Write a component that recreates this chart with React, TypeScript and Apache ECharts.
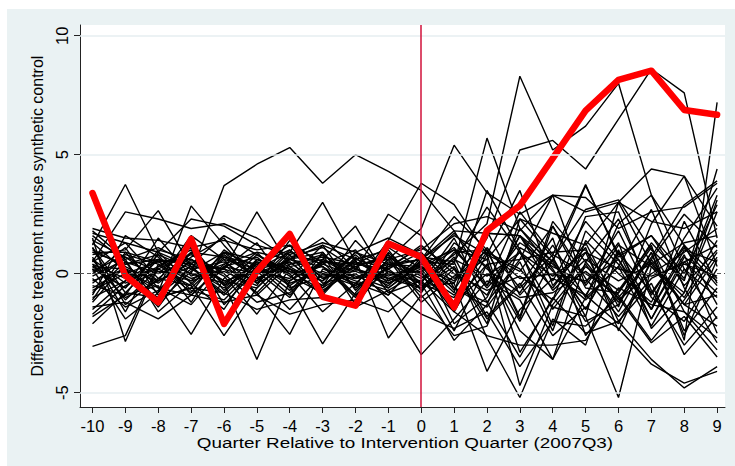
import React, { useEffect, useRef } from "react";
import * as echarts from "echarts";

const quarters = [-10, -9, -8, -7, -6, -5, -4, -3, -2, -1, 0, 1, 2, 3, 4, 5, 6, 7, 8, 9];
const yTicks = [-5, 0, 5, 10];

const treated = [3.39, -0.08, -1.2, 1.46, -2.11, 0.1, 1.67, -0.97, -1.34, 1.27, 0.7, -1.41, 1.81, 2.86, 4.85, 6.85, 8.14, 8.53, 6.88, 6.68];

const p01 = [0.9, 0.4, 0.6, 0.0, 3.7, 4.6, 5.3, 3.8, 5.0, 4.3, 3.5, 1.8, -0.5, 1.3, 0.4, -0.9, 1.2, 0.3, -1.3, 0.7];
const p02 = [0.3, -0.6, 0.8, 0.2, -0.6, 0.5, 0.1, -0.3, 0.9, 0.4, -0.2, 0.8, 2.1, 8.3, 5.2, 6.2, 8.0, 3.3, 0.2, -1.0];
const p03 = [-0.4, 0.7, -0.3, 0.5, 0.2, -0.8, 0.6, 0.3, -0.5, 0.2, 0.9, -0.7, 1.5, 5.2, 5.6, 4.4, 6.5, 8.6, 7.6, 1.5];
const p04 = [0.6, -1.1, 0.2, -0.5, 0.9, 0.3, -0.9, 0.6, 0.1, -0.4, 0.2, 1.1, -0.6, 0.9, -1.5, 0.3, -0.7, 1.2, -2.8, 7.2];
const p05 = [-3.05, -2.6, 0.4, -0.3, 0.8, -0.2, 0.5, -0.6, 0.3, 0.7, -0.1, -1.2, 0.4, -2.0, 0.6, -1.5, 0.9, -0.8, 1.1, -0.5];
const p06 = [1.2, 3.75, 0.9, -0.4, 0.6, 0.2, -0.3, 0.8, -0.2, 0.4, 0.6, 2.4, 1.0, -1.8, 2.2, 0.5, -1.2, 0.7, 2.9, 3.9];
const p07 = [1.5, -2.85, 0.3, 1.0, -0.5, 0.8, 0.1, -0.7, 0.2, -0.3, 0.5, -0.8, 3.5, 1.0, -2.2, 1.8, 0.4, -1.5, 0.8, -2.5];
const p08 = [0.8, 1.0, 2.65, 0.3, -0.9, 0.4, 1.0, -0.2, 0.3, 0.8, -0.4, 1.5, -1.2, 0.6, 3.3, -0.5, 1.3, -2.3, -0.8, 2.6];
const p09 = [-0.6, 0.2, -0.8, 2.85, 1.2, -0.3, 0.6, 0.9, -0.6, 0.3, 1.1, 0.2, -2.1, 2.3, 0.7, -1.8, 3.0, 0.4, -1.0, 1.4];
const p10 = [-1.8, -0.9, -0.5, -2.55, -0.2, 0.9, -0.5, 0.4, 1.0, -0.8, -0.3, -1.6, 0.8, -3.3, -1.1, 0.9, -2.0, -0.4, -3.4, -1.8];
const p11 = [0.5, 1.3, -0.2, -0.5, -2.6, -0.6, 0.7, 1.1, 0.2, -0.5, 0.8, -2.1, -1.0, 1.6, -0.3, 2.2, 0.6, -1.9, 0.5, -0.8];
const p12 = [1.8, 0.6, 1.1, 0.4, 0.2, 2.6, 0.3, -0.5, 0.6, 1.0, -0.7, 0.5, 2.8, 0.9, -0.6, 1.3, -1.4, 2.1, 4.1, 0.3];
const p13 = [-0.2, -1.4, -0.7, 0.6, -0.4, -3.6, -0.3, 0.5, -0.9, 0.1, -0.6, 0.3, -1.9, -0.5, 1.5, -2.6, -0.8, 1.1, -1.6, -3.2];
const p14 = [0.2, -0.6, 1.5, -0.1, 0.4, -0.8, -2.55, 0.2, -0.3, -0.7, 0.1, 1.0, -0.5, 2.6, 0.8, 0.0, -0.9, -2.8, -1.1, 0.9];
const p15 = [-0.8, 0.5, 0.0, 1.2, -0.5, 0.2, 0.9, 3.0, 0.5, -0.2, 0.3, -0.4, 1.8, -0.9, 0.6, 2.7, 3.1, 1.0, -0.3, 4.4];
const p16 = [0.4, -0.2, -1.0, -0.6, 0.7, 0.4, -0.5, -2.95, -0.8, 0.6, -1.2, -0.1, 0.6, -4.7, -1.3, 0.4, -1.6, 0.9, -2.4, -0.6];
const p17 = [1.0, 0.3, -0.4, 0.7, 1.5, -0.4, 0.3, 0.6, 2.0, -0.3, 0.4, 1.7, 0.2, -0.8, 1.2, -1.0, 2.1, 3.3, 1.2, -1.3];
const p18 = [-1.1, 0.9, 0.5, -0.2, 0.2, 1.3, -0.6, -0.1, 0.1, 2.5, 1.6, -0.6, -1.4, 0.5, -2.4, 1.4, 0.0, -1.2, 1.5, 3.6];
const p19 = [0.7, -1.6, 0.9, 0.3, -0.8, 0.6, 0.2, -0.9, 0.6, -2.7, -0.9, -2.6, -2.2, 1.1, 0.3, -0.4, 1.8, -1.0, -2.0, 0.2];
const p20 = [1.3, 0.1, -0.6, -0.9, 0.4, 0.9, 0.6, 0.0, -0.5, 1.4, 3.8, 2.9, 0.8, 3.5, -0.5, 1.1, -2.4, 0.6, 2.5, 1.1];
const p21 = [-1.5, -0.3, 0.2, 0.8, 0.0, -1.2, -0.8, 0.5, 0.3, -1.1, -3.4, -1.9, -0.3, -1.1, -3.6, -1.0, 0.3, -2.2, 0.2, -1.9];
const p22 = [0.1, 0.8, 0.4, -0.8, 1.0, 0.1, -0.2, 1.2, -0.7, 0.6, 1.9, 5.4, 3.4, 2.5, 3.3, 3.2, 1.9, 2.6, 2.8, 3.8];
const p23 = [-0.5, -0.9, 1.0, 0.6, -0.3, -0.6, 0.8, -0.8, 0.7, -0.6, 0.5, 0.4, 5.7, 1.9, 0.5, 3.7, 0.8, 1.6, -0.5, 1.0];
const p24 = [1.6, 0.5, -1.2, 0.1, 0.9, 0.6, 0.0, 0.3, -1.0, 0.9, -0.5, -0.4, -4.1, -1.5, -0.2, -0.9, -2.1, 0.5, -1.3, -2.2];
const p25 = [-0.9, 1.6, 0.7, -0.7, -1.1, 0.3, 1.2, -0.4, 0.0, -0.9, 0.7, 0.5, -2.7, -5.2, -1.9, -3.0, 0.9, -1.9, 0.7, -0.3];
const p26 = [0.4, -1.0, -0.3, 1.6, 0.6, -0.9, 0.4, 0.7, 0.4, 0.2, -0.8, 1.3, 0.3, -2.4, -3.6, 0.5, 2.3, -0.7, -3.0, -1.4];
const p27 = [-0.3, 0.2, -1.4, 0.4, -0.3, 0.1, -1.0, 0.9, -0.6, 0.5, 0.0, -0.9, 0.9, 0.2, -1.4, -1.8, -5.2, 0.3, -0.8, 3.1];
const p28 = [1.1, -1.3, -0.2, 0.9, -0.7, 0.5, 0.2, -0.3, 0.8, -0.4, 0.3, -0.6, -1.2, -3.5, -1.0, -2.5, -2.0, -3.6, -4.8, -3.9];
const p29 = [-1.2, 0.4, 0.8, -0.9, 0.3, 0.7, -0.4, 0.1, -0.4, 0.8, -0.7, 0.7, -1.8, -0.4, -2.6, -1.4, -2.3, -3.8, -4.6, -4.1];
const p30 = [0.0, 1.1, -0.9, 0.2, 0.5, -0.4, 0.9, 0.4, -0.1, -0.6, 0.4, 1.0, 0.6, 2.3, 1.7, 1.2, 3.0, 4.4, 4.1, 2.0];
const p31 = [0.6, -0.4, 0.3, 1.1, -1.3, 0.2, 0.5, -0.6, 0.9, 0.1, -0.4, -1.0, 1.1, -0.6, 0.8, 3.75, 0.7, 1.6, 0.0, 2.9];
const p32 = [1.4, 0.7, 0.1, -0.3, 0.1, -0.5, 1.4, 0.3, -0.9, 0.3, 0.6, 1.8, 1.7, 1.6, -0.7, 0.6, -0.3, 0.4, 1.3, 1.6];
const p33 = [-1.0, -0.3, 0.6, 0.4, 1.6, 0.8, -0.1, -0.8, 0.4, 1.1, 0.2, -1.6, -2.6, -3.0, -3.0, -2.8, -0.6, -1.3, -1.6, -2.7];
const p34 = [0.9, 0.9, -0.6, -1.3, 0.3, 0.0, 0.6, 1.5, 0.2, -0.2, -0.6, 0.9, 1.0, -0.2, 0.0, -0.3, 0.6, -1.5, 2.2, -0.4];
const p35 = [-0.7, 0.0, 0.5, 0.6, -0.1, -1.7, 0.2, -0.5, 1.4, 0.0, 0.1, -2.4, 0.4, 0.6, 0.9, 1.0, -1.1, 0.0, 0.9, 1.9];
const p36 = [0.2, -1.9, -0.8, 0.9, 0.7, -0.1, -1.5, 0.0, -0.2, 0.7, -1.0, 0.2, -0.9, 1.6, 0.1, -1.1, 0.3, 2.7, -0.6, -2.9];
const p37 = [1.7, 1.3, 0.9, 2.3, 2.0, 1.2, 0.8, 1.3, 0.9, 1.5, 0.8, -0.2, 1.0, -1.9, 2.0, -0.2, -1.8, -0.2, 0.5, 1.2];
const p38 = [-1.4, -1.2, -1.9, -0.9, -1.2, -0.9, -1.7, -1.3, -1.1, -1.6, -0.4, -2.8, -1.3, 1.9, 0.2, -2.0, -1.3, 0.9, -2.6, 0.6];
const p39 = [0.5, 2.6, 2.3, 1.9, 2.1, 1.5, 0.6, 1.2, 0.6, 0.2, 1.2, 0.0, -0.7, -0.1, -1.1, 2.4, 2.6, -0.9, 1.2, -0.2];
const p40 = [-0.1, 0.6, -1.6, -0.4, -1.5, 0.6, 0.0, -1.6, -0.4, -0.9, 0.6, 1.6, 0.8, 0.1, 2.0, -0.6, -0.8, 1.3, -0.2, 3.3];
const p41 = [1.1, -0.8, 0.6, -1.2, 0.9, -0.2, 0.4, 0.8, -1.3, 0.4, 0.3, -1.2, 0.0, -1.0, -0.8, 0.1, -1.0, 0.6, -1.3, -0.9];
const p42 = [-1.7, -0.5, 0.1, 0.0, -0.4, 0.4, -0.7, 0.6, -0.2, 0.0, -0.3, 0.6, -0.1, 0.9, -0.1, 0.9, 0.2, -0.1, 0.4, -0.1];
const p43 = [0.3, 0.2, -0.3, 0.3, 0.2, -0.3, 1.0, -0.2, 0.5, -0.1, 0.4, -0.3, 1.7, 1.6, 0.5, -1.5, 1.0, -1.5, 1.0, 0.5];
const p44 = [-2.1, -0.8, -1.0, -0.6, -0.8, -1.5, -1.1, -1.0, -1.4, -0.7, -1.7, -2.3, -1.6, -3.9, -2.0, -2.2, -1.0, -2.9, -1.8, -3.5];
const p45 = [1.9, 1.5, 1.4, 1.1, 1.4, 1.0, 1.2, 0.5, 0.4, 0.6, 1.0, 2.1, 2.4, 1.8, 3.3, 2.6, 3.0, 2.2, 1.9, 2.6];

const placebos = [p01, p02, p03, p04, p05, p06, p07, p08, p09, p10, p11, p12, p13, p14, p15, p16, p17, p18, p19, p20, p21, p22, p23, p24, p25, p26, p27, p28, p29, p30, p31, p32, p33, p34, p35, p36, p37, p38, p39, p40, p41, p42, p43, p44, p45];

const xTitle = "Quarter Relative to Intervention Quarter (2007Q3)";
const yTitle = "Difference treatment minuse synthetic control";

export default function App() {
  const ref = useRef<HTMLDivElement>(null);
  useEffect(() => {
    if (!ref.current) return;
    const chart = echarts.init(ref.current, null, { renderer: "svg" });
    const font = "Liberation Sans, Arial, sans-serif";
    const toPts = (arr: number[]) => quarters.map((q, i) => [q, arr[i]]);
    const series: any[] = [
      {
        type: "line",
        data: [],
        z: 1,
        silent: true,
        markLine: {
          silent: true,
          symbol: "none",
          animation: false,
          label: { show: false },
          data: [
            { yAxis: -5, lineStyle: { color: "#e6eef0", width: 1.5, type: "solid" } },
            { yAxis: 5, lineStyle: { color: "#e6eef0", width: 1.5, type: "solid" } },
            { yAxis: 10, lineStyle: { color: "#e6eef0", width: 1.5, type: "solid" } },
            { yAxis: 0, lineStyle: { color: "#555555", width: 1, type: [4, 3] } },
          ],
        },
      },
    ];
    placebos.forEach((p) => {
      series.push({
        type: "line",
        data: toPts(p),
        z: 2,
        symbol: "none",
        silent: true,
        lineStyle: { color: "#000000", width: 1.4 },
      });
    });
    series.push({
      type: "line",
      data: [],
      z: 3,
      silent: true,
      markLine: {
        silent: true,
        symbol: "none",
        animation: false,
        label: { show: false },
        data: [{ xAxis: 0, lineStyle: { color: "#d0103a", width: 1.5, type: "solid" } }],
      },
    });
    series.push({
      type: "line",
      data: toPts(treated),
      z: 4,
      symbol: "none",
      silent: true,
      lineStyle: { color: "#ff0000", width: 6.5, join: "round", cap: "round" },
    });

    chart.setOption({
      animation: false,
      textStyle: { fontFamily: font },
      graphic: [
        {
          type: "rect",
          shape: { x: 7, y: 9, width: 728, height: 457 },
          style: { fill: "#eaf2f3" },
          z: -10,
          silent: true,
        },
        {
          type: "text",
          x: 405,
          y: 443,
          scaleX: 1.18,
          scaleY: 0.95,
          z: 10,
          silent: true,
          style: {
            text: xTitle,
            fontSize: 16,
            fontFamily: font,
            fill: "#000",
            align: "center",
            verticalAlign: "middle",
          },
        },
      ],
      grid: {
        left: 80,
        top: 25,
        right: 10,
        bottom: 59,
        show: true,
        backgroundColor: "#ffffff",
        borderWidth: 0,
      },
      xAxis: {
        type: "value",
        min: -10.38,
        max: 9.24,
        axisLine: { show: true, onZero: false, lineStyle: { color: "#222", width: 1 } },
        axisTick: { show: true, length: 6, customValues: quarters, lineStyle: { color: "#222" } },
        axisLabel: { customValues: quarters, fontSize: 16.5, color: "#000", margin: 10, fontFamily: font },
        splitLine: { show: false },
      },
      yAxis: {
        type: "value",
        min: -5.6,
        max: 10.45,
        name: yTitle,
        nameLocation: "middle",
        nameGap: 30,
        nameTextStyle: { fontSize: 16, color: "#000", fontFamily: font },
        axisLine: { show: true, onZero: false, lineStyle: { color: "#222", width: 1 } },
        axisTick: { show: true, length: 6, customValues: yTicks, lineStyle: { color: "#222" } },
        axisLabel: { customValues: yTicks, fontSize: 16.5, color: "#000", rotate: 90, margin: 10, fontFamily: font },
        splitLine: { show: false },
      },
      series,
    });
    return () => chart.dispose();
  }, []);
  return (
    <div
      ref={ref}
      style={{ position: "absolute", left: 0, top: 0, width: 735, height: 466, background: "#ffffff" }}
    />
  );
}
